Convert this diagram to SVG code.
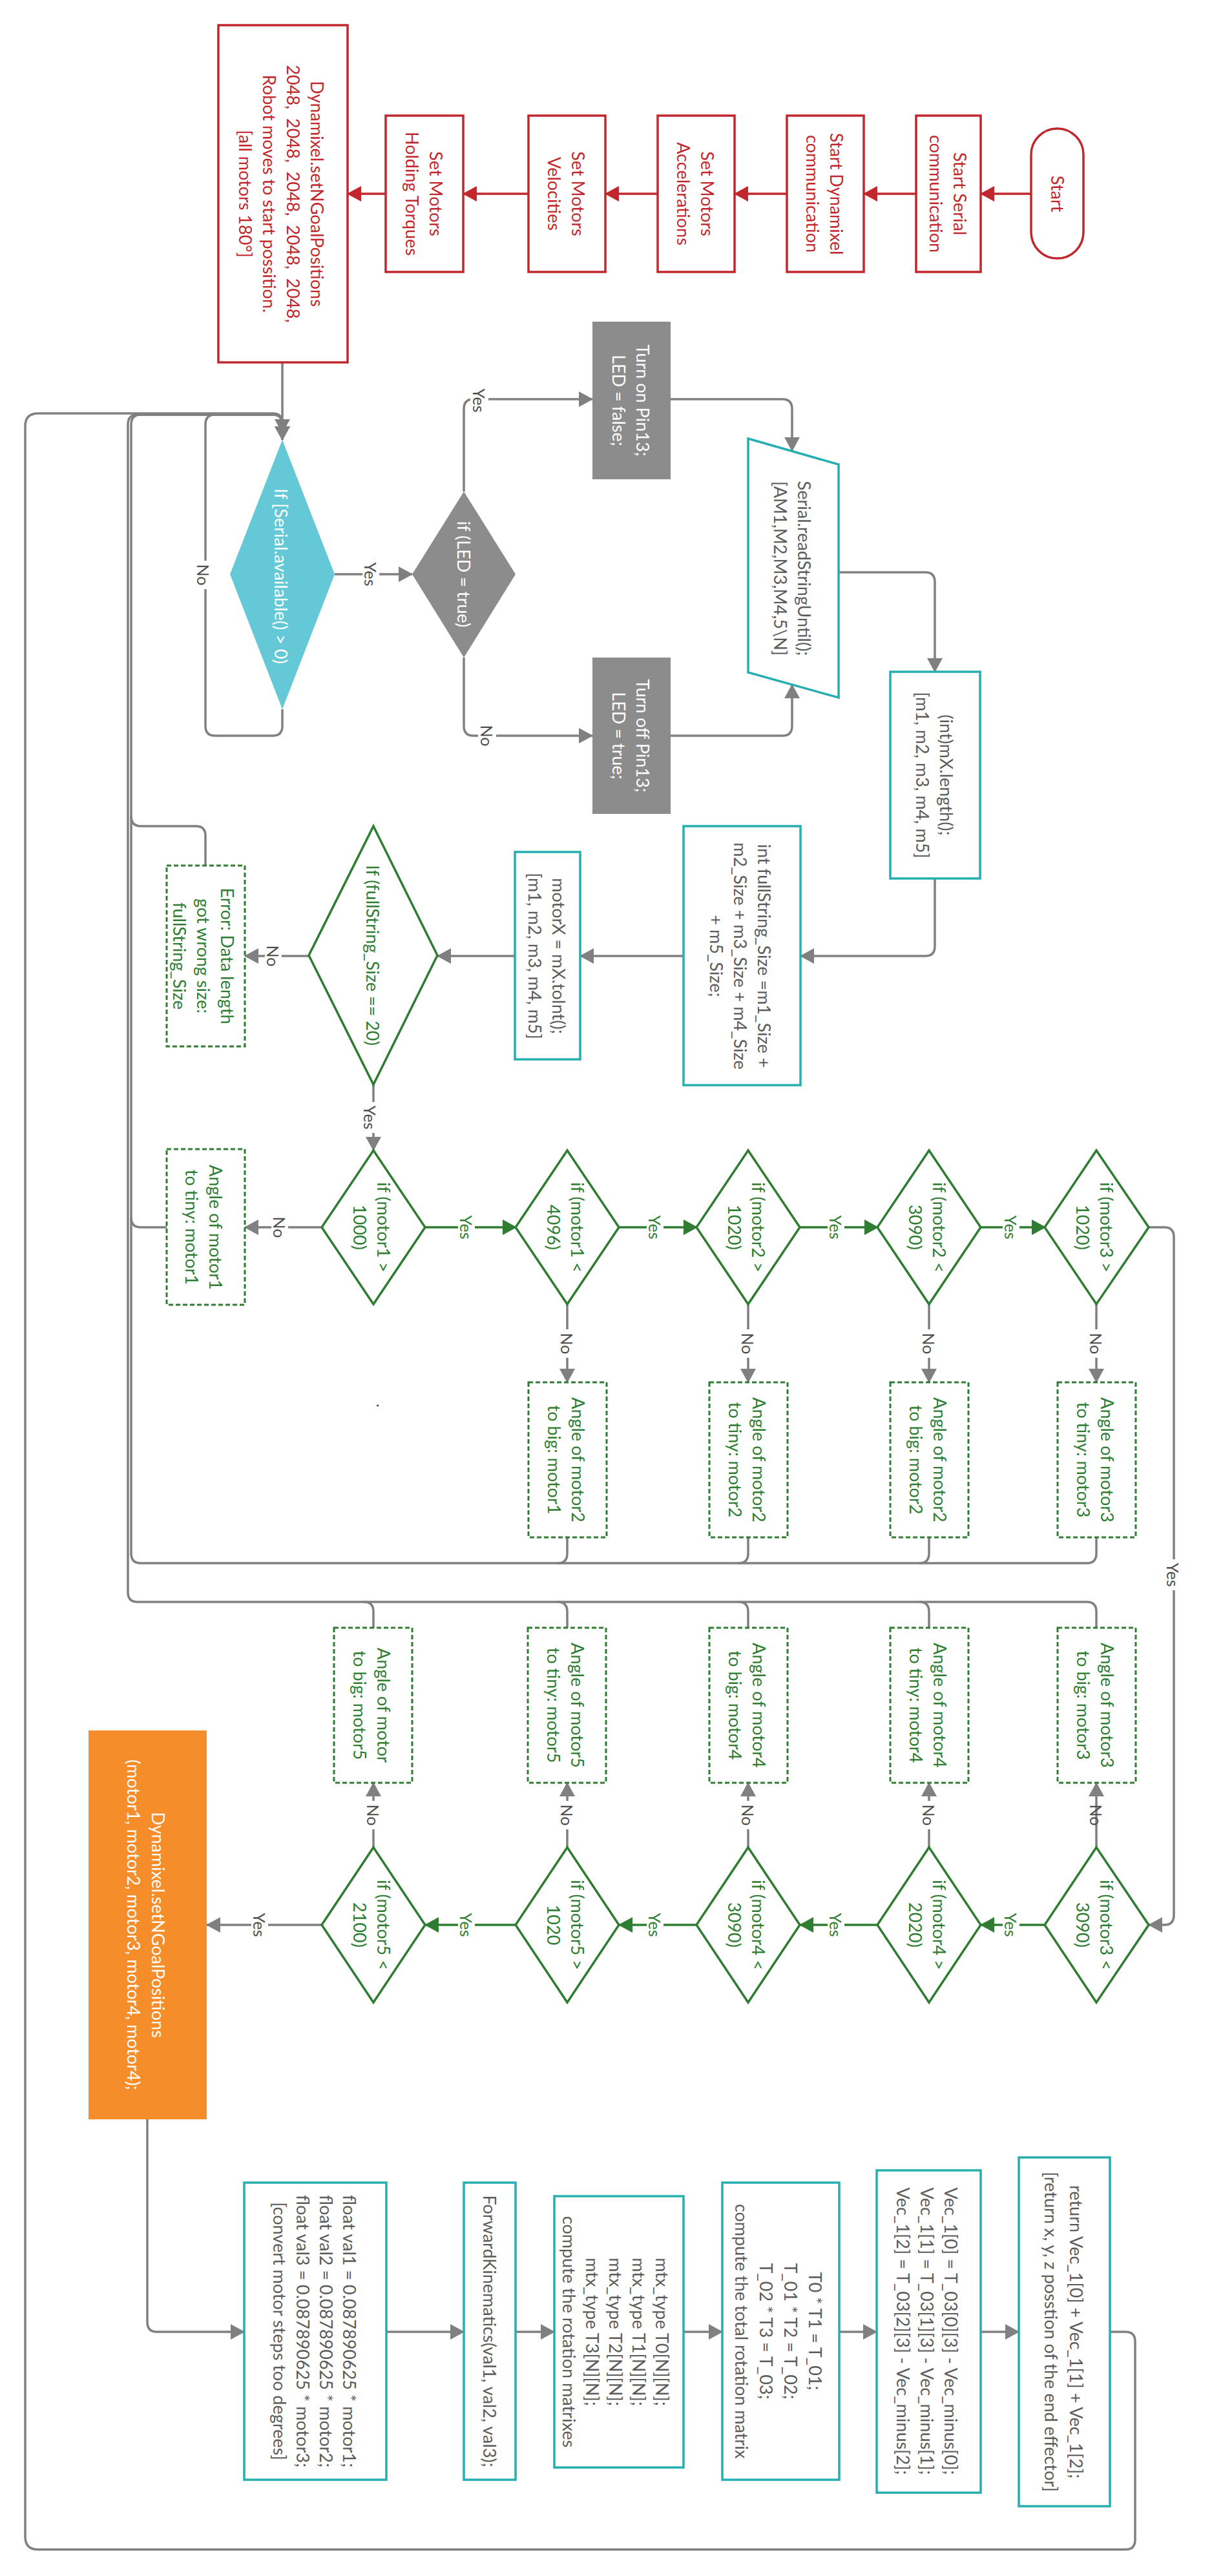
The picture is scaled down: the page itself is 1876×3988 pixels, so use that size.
<svg xmlns="http://www.w3.org/2000/svg" width="1876" height="3988" viewBox="0 0 1876 3988">
<style>
.t{font-family:Lato,"Liberation Sans",sans-serif;font-size:27px;text-anchor:middle;dominant-baseline:central}
.red{fill:#c1272d}.wt{fill:#ffffff}.gr{fill:#2e7d32}.dg{fill:#5c5c5c}
.lbl{font-family:Lato,"Liberation Sans",sans-serif;font-size:25px;text-anchor:middle;dominant-baseline:central;fill:#4d4d4d}
.lblg{fill:#2e7d32}
.c{fill:none;stroke:#808080;stroke-width:3.5}
.cg{fill:none;stroke:#2e7d32;stroke-width:3.5}
.cr{fill:none;stroke:#c1272d;stroke-width:3.5}
.rb{fill:#ffffff;stroke:#c1272d;stroke-width:3.5}
.tb{fill:#ffffff;stroke:#26aeb0;stroke-width:3.5}
.gd{fill:#ffffff;stroke:#2e7d32;stroke-width:3.5}
.gdash{fill:#ffffff;stroke:#2e7d32;stroke-width:3;stroke-dasharray:7 4}
.gray{fill:#8c8c8c}
.bg{fill:#ffffff}
</style>
<defs>
<marker id="ag" markerUnits="userSpaceOnUse" markerWidth="22" markerHeight="24" viewBox="0 0 22 24" refX="21" refY="12" orient="auto"><path d="M0,0 L22,12 L0,24 z" fill="#808080"/></marker>
<marker id="ar" markerUnits="userSpaceOnUse" markerWidth="22" markerHeight="24" viewBox="0 0 22 24" refX="21" refY="12" orient="auto"><path d="M0,0 L22,12 L0,24 z" fill="#c1272d"/></marker>
<marker id="agr" markerUnits="userSpaceOnUse" markerWidth="22" markerHeight="24" viewBox="0 0 22 24" refX="21" refY="12" orient="auto"><path d="M0,0 L22,12 L0,24 z" fill="#2e7d32"/></marker>
</defs>
<rect width="1876" height="3988" fill="#ffffff"/>

<g id="connectors">
<!-- red chain -->
<path class="cr" d="M1596,300 H1518" marker-end="url(#ar)"/>
<path class="cr" d="M1418,300 H1337" marker-end="url(#ar)"/>
<path class="cr" d="M1218,300 H1137" marker-end="url(#ar)"/>
<path class="cr" d="M1018,300 H937" marker-end="url(#ar)"/>
<path class="cr" d="M818,300 H717" marker-end="url(#ar)"/>
<path class="cr" d="M597,300 H538" marker-end="url(#ar)"/>
<!-- into serial available -->
<path class="c" d="M437,561 V681" marker-end="url(#ag)"/>
<path class="c" d="M1718,3610 H1742 Q1757,3610 1757,3625 V3932 Q1757,3947 1742,3947 H59 Q39,3947 39,3927 V660 Q39,640 59,640 H422 Q437,640 437,655 V681" marker-end="url(#ag)"/>
<path class="c" d="M437,1098 V1124 Q437,1139 422,1139 H333 Q318,1139 318,1124 V657 Q318,642 333,642 H422 Q437,642 437,657 V670" marker-end="url(#ag)"/>
<path class="c" d="M1697,2380 V2405 Q1697,2420 1682,2420 H218 Q203,2420 203,2405 V657 Q203,642 218,642 H422 Q437,642 437,657 V681" marker-end="url(#ag)"/>
<path class="c" d="M1438,2380 V2405 Q1438,2420 1423,2420"/>
<path class="c" d="M1158,2380 V2405 Q1158,2420 1143,2420"/>
<path class="c" d="M878,2380 V2405 Q878,2420 863,2420"/>
<path class="c" d="M318,1340 V1294 Q318,1279 303,1279 H218 Q203,1279 203,1264"/>
<path class="c" d="M258,1900 H218 Q203,1900 203,1885"/>
<path class="c" d="M1697,2520 V2495 Q1697,2480 1682,2480 H213 Q198,2480 198,2465 V657 Q198,642 213,642 H422"/>
<path class="c" d="M1438,2520 V2495 Q1438,2480 1423,2480"/>
<path class="c" d="M1158,2520 V2495 Q1158,2480 1143,2480"/>
<path class="c" d="M878,2520 V2495 Q878,2480 863,2480"/>
<path class="c" d="M578,2520 V2495 Q578,2480 563,2480"/>
<!-- LED branch -->
<path class="c" d="M518,889 H638" marker-end="url(#ag)"/>
<path class="c" d="M718,761 V633 Q718,618 733,618 H917" marker-end="url(#ag)"/>
<path class="c" d="M718,1018 V1124 Q718,1139 733,1139 H917" marker-end="url(#ag)"/>
<path class="c" d="M1038,618 H1211 Q1226,618 1226,633 V698" marker-end="url(#ag)"/>
<path class="c" d="M1038,1139 H1211 Q1226,1139 1226,1124 V1060" marker-end="url(#ag)"/>
<path class="c" d="M1298,886 H1432 Q1447,886 1447,901 V1040" marker-end="url(#ag)"/>
<path class="c" d="M1447,1360 V1465 Q1447,1480 1432,1480 H1239" marker-end="url(#ag)"/>
<path class="c" d="M1058,1480 H898" marker-end="url(#ag)"/>
<path class="c" d="M797,1480 H677" marker-end="url(#ag)"/>
<path class="c" d="M478,1480 H379" marker-end="url(#ag)"/>
<path class="c" d="M578,1679 V1781" marker-end="url(#ag)"/>
<path class="c" d="M499,1900 H379" marker-end="url(#ag)"/>
<!-- upper yes chain -->
<path class="cg" d="M658,1900 H799" marker-end="url(#agr)"/>
<path class="cg" d="M958,1900 H1079" marker-end="url(#agr)"/>
<path class="cg" d="M1238,1900 H1359" marker-end="url(#agr)"/>
<path class="cg" d="M1518,1900 H1618" marker-end="url(#agr)"/>
<path class="c" d="M878,2019 V2140" marker-end="url(#ag)"/>
<path class="c" d="M1158,2019 V2140" marker-end="url(#ag)"/>
<path class="c" d="M1438,2019 V2140" marker-end="url(#ag)"/>
<path class="c" d="M1697,2019 V2140" marker-end="url(#ag)"/>
<path class="c" d="M1778,1900 H1802 Q1817,1900 1817,1915 V2965 Q1817,2980 1802,2980 H1778" marker-end="url(#ag)"/>
<!-- lower yes chain -->
<path class="cg" d="M1618,2980 H1518" marker-end="url(#agr)"/>
<path class="cg" d="M1359,2980 H1238" marker-end="url(#agr)"/>
<path class="cg" d="M1079,2980 H958" marker-end="url(#agr)"/>
<path class="cg" d="M799,2980 H658" marker-end="url(#agr)"/>
<path class="c" d="M578,2860 V2760" marker-end="url(#ag)"/>
<path class="c" d="M878,2860 V2760" marker-end="url(#ag)"/>
<path class="c" d="M1158,2860 V2760" marker-end="url(#ag)"/>
<path class="c" d="M1438,2860 V2760" marker-end="url(#ag)"/>
<path class="c" d="M1697,2959 V2760" marker-end="url(#ag)"/>
<path class="c" d="M499,2980 H320" marker-end="url(#ag)"/>
<!-- bottom chain -->
<path class="c" d="M228,3281 V3595 Q228,3610 243,3610 H378" marker-end="url(#ag)"/>
<path class="c" d="M598,3610 H718" marker-end="url(#ag)"/>
<path class="c" d="M798,3610 H858" marker-end="url(#ag)"/>
<path class="c" d="M1058,3610 H1118" marker-end="url(#ag)"/>
<path class="c" d="M1299,3610 H1357" marker-end="url(#ag)"/>
<path class="c" d="M1518,3610 H1577" marker-end="url(#ag)"/>
<!-- labels -->
<g transform="translate(315,890) rotate(90)"><rect class="bg" x="-22" y="-13" width="44" height="26"/><text class="lbl" x="0" y="0">No</text></g>
<g transform="translate(574,889) rotate(90)"><rect class="bg" x="-24" y="-13" width="48" height="26"/><text class="lbl" x="0" y="0">Yes</text></g>
<g transform="translate(742,620) rotate(90)"><rect class="bg" x="-24" y="-14" width="48" height="28"/><text class="lbl" x="0" y="0">Yes</text></g>
<g transform="translate(754,1139) rotate(90)"><rect class="bg" x="-22" y="-14" width="44" height="28"/><text class="lbl" x="0" y="0">No</text></g>
<g transform="translate(423,1480) rotate(90)"><rect class="bg" x="-22" y="-13" width="44" height="26"/><text class="lbl" x="0" y="0">No</text></g>
<g transform="translate(573,1730) rotate(90)"><rect class="bg" x="-24" y="-13" width="48" height="26"/><text class="lbl" x="0" y="0">Yes</text></g>
<g transform="translate(433,1900) rotate(90)"><rect class="bg" x="-22" y="-13" width="44" height="26"/><text class="lbl" x="0" y="0">No</text></g>
<g transform="translate(722,1900) rotate(90)"><rect class="bg" x="-24" y="-13" width="48" height="26"/><text class="lbl lblg" x="0" y="0">Yes</text></g>
<g transform="translate(1014,1900) rotate(90)"><rect class="bg" x="-24" y="-13" width="48" height="26"/><text class="lbl lblg" x="0" y="0">Yes</text></g>
<g transform="translate(1294,1900) rotate(90)"><rect class="bg" x="-24" y="-13" width="48" height="26"/><text class="lbl lblg" x="0" y="0">Yes</text></g>
<g transform="translate(1565,1900) rotate(90)"><rect class="bg" x="-24" y="-13" width="48" height="26"/><text class="lbl lblg" x="0" y="0">Yes</text></g>
<g transform="translate(878,2080) rotate(90)"><rect class="bg" x="-22" y="-13" width="44" height="26"/><text class="lbl" x="0" y="0">No</text></g>
<g transform="translate(1158,2080) rotate(90)"><rect class="bg" x="-22" y="-13" width="44" height="26"/><text class="lbl" x="0" y="0">No</text></g>
<g transform="translate(1438,2080) rotate(90)"><rect class="bg" x="-22" y="-13" width="44" height="26"/><text class="lbl" x="0" y="0">No</text></g>
<g transform="translate(1697,2080) rotate(90)"><rect class="bg" x="-22" y="-13" width="44" height="26"/><text class="lbl" x="0" y="0">No</text></g>
<g transform="translate(1816,2438) rotate(90)"><rect class="bg" x="-24" y="-13" width="48" height="26"/><text class="lbl" x="0" y="0">Yes</text></g>
<g transform="translate(1565,2980) rotate(90)"><rect class="bg" x="-24" y="-13" width="48" height="26"/><text class="lbl lblg" x="0" y="0">Yes</text></g>
<g transform="translate(1294,2980) rotate(90)"><rect class="bg" x="-24" y="-13" width="48" height="26"/><text class="lbl lblg" x="0" y="0">Yes</text></g>
<g transform="translate(1014,2980) rotate(90)"><rect class="bg" x="-24" y="-13" width="48" height="26"/><text class="lbl lblg" x="0" y="0">Yes</text></g>
<g transform="translate(722,2980) rotate(90)"><rect class="bg" x="-24" y="-13" width="48" height="26"/><text class="lbl lblg" x="0" y="0">Yes</text></g>
<g transform="translate(578,2810) rotate(90)"><rect class="bg" x="-22" y="-13" width="44" height="26"/><text class="lbl" x="0" y="0">No</text></g>
<g transform="translate(878,2810) rotate(90)"><rect class="bg" x="-22" y="-13" width="44" height="26"/><text class="lbl" x="0" y="0">No</text></g>
<g transform="translate(1158,2810) rotate(90)"><rect class="bg" x="-22" y="-13" width="44" height="26"/><text class="lbl" x="0" y="0">No</text></g>
<g transform="translate(1438,2810) rotate(90)"><rect class="bg" x="-22" y="-13" width="44" height="26"/><text class="lbl" x="0" y="0">No</text></g>
<g transform="translate(1697,2810) rotate(90)"><text class="lbl" x="0" y="0">No</text></g>
<g transform="translate(402,2980) rotate(90)"><rect class="bg" x="-24" y="-13" width="48" height="26"/><text class="lbl" x="0" y="0">Yes</text></g>
<text class="lbl" x="583" y="2173" transform="rotate(90 583 2173)" style="text-anchor:start;dominant-baseline:auto">.</text>
</g>

<g id="start">
<rect class="rb" x="1596" y="199" width="81" height="201" rx="40.5"/>
<text class="t red" x="1637" y="300" transform="rotate(90 1637 300)">Start</text>
</g>
<g id="serial">
<rect class="rb" x="1418" y="179" width="100" height="242"/>
<text class="t red" transform="rotate(90 1468 300)"><tspan x="1468" y="281.5">Start Serial</tspan><tspan x="1468" y="318.5">communication</tspan></text>
</g>
<g id="dynstart">
<rect class="rb" x="1218" y="179" width="119" height="242"/>
<text class="t red" transform="rotate(90 1277 300)"><tspan x="1277" y="281.5">Start Dynamixel</tspan><tspan x="1277" y="318.5">communication</tspan></text>
</g>
<g id="accel">
<rect class="rb" x="1018" y="179" width="119" height="242"/>
<text class="t red" transform="rotate(90 1077 300)"><tspan x="1077" y="281.5">Set Motors</tspan><tspan x="1077" y="318.5">Accelerations</tspan></text>
</g>
<g id="veloc">
<rect class="rb" x="818" y="179" width="119" height="242"/>
<text class="t red" transform="rotate(90 877 300)"><tspan x="877" y="281.5">Set Motors</tspan><tspan x="877" y="318.5">Velocities</tspan></text>
</g>
<g id="torque">
<rect class="rb" x="597" y="179" width="120" height="242"/>
<text class="t red" transform="rotate(90 657 300)"><tspan x="657" y="281.5">Set Motors</tspan><tspan x="657" y="318.5">Holding Torques</tspan></text>
</g>
<g id="initpos">
<rect class="rb" x="338" y="39" width="200" height="522"/>
<text class="t red" transform="rotate(90 436 300)"><tspan x="436" y="244.5">Dynamixel.setNGoalPositions</tspan><tspan x="436" y="281.5">2048, &#160;2048, &#160;2048, &#160;2048, &#160;2048,</tspan><tspan x="436" y="318.5">Robot moves to start possition.</tspan><tspan x="436" y="355.5">[all motors 180°]</tspan></text>
</g>

<g id="available">
<polygon points="437,681 518,889 437,1098 356,889" fill="#64c8d6"/>
<text class="t wt" x="435" y="892" transform="rotate(90 435 892)">If [Serial.available() &gt; 0)</text>
</g>
<g id="ledcheck">
<polygon class="gray" points="718,761 798,889 718,1018 638,889"/>
<text class="t wt" x="718" y="889" transform="rotate(90 718 889)">if (LED = true)</text>
</g>
<g id="ledon">
<rect class="gray" x="917" y="498" width="121" height="244"/>
<text class="t wt" transform="rotate(90 977 620)"><tspan x="977" y="601.5">Turn on Pin13;</tspan><tspan x="977" y="638.5">LED = false;</tspan></text>
</g>
<g id="ledoff">
<rect class="gray" x="917" y="1018" width="121" height="242"/>
<text class="t wt" transform="rotate(90 977 1139)"><tspan x="977" y="1120.5">Turn off Pin13;</tspan><tspan x="977" y="1157.5">LED = true;</tspan></text>
</g>
<g id="readstring">
<polygon class="tb" points="1158,679 1298,719 1298,1080 1158,1041"/>
<text class="t dg" transform="rotate(90 1227 880)"><tspan x="1227" y="861.5">Serial.readStringUntil();</tspan><tspan x="1227" y="898.5">[AM1,M2,M3,M4,5\N]</tspan></text>
</g>
<g id="lengths">
<rect class="tb" x="1378" y="1040" width="139" height="320"/>
<text class="t dg" transform="rotate(90 1447 1200)"><tspan x="1447" y="1181.5">(int)mX.length();</tspan><tspan x="1447" y="1218.5">[m1, m2, m3, m4, m5]</tspan></text>
</g>
<g id="fullsize">
<rect class="tb" x="1058" y="1279" width="181" height="401"/>
<text class="t dg" transform="rotate(90 1147 1480)"><tspan x="1147" y="1443">int fullString_Size =m1_Size +</tspan><tspan x="1147" y="1480">m2_Size + m3_Size + m4_Size</tspan><tspan x="1147" y="1517">+ m5_Size;</tspan></text>
</g>
<g id="toint">
<rect class="tb" x="797" y="1319" width="101" height="321"/>
<text class="t dg" transform="rotate(90 847 1480)"><tspan x="847" y="1461.5">motorX = mX.toInt();</tspan><tspan x="847" y="1498.5">[m1, m2, m3, m4, m5]</tspan></text>
</g>
<g id="sizecheck">
<polygon class="gd" points="578,1279 677,1479 578,1679 478,1479"/>
<text class="t gr" x="577" y="1479" transform="rotate(90 577 1479)">If (fullString_Size == 20)</text>
</g>
<g id="error">
<rect class="gdash" x="258" y="1340" width="121" height="280"/>
<text class="t gr" transform="rotate(90 316 1480)"><tspan x="316" y="1443">Error: Data length</tspan><tspan x="316" y="1480">got wrong size:</tspan><tspan x="316" y="1517">fullString_Size</tspan></text>
</g>

<g id="m1gt">
<polygon class="gd" points="578,1781 658,1900 578,2019 498,1900"/>
<text class="t gr" transform="rotate(90 576 1900)"><tspan x="576" y="1881.5">if (motor1 &gt;</tspan><tspan x="576" y="1918.5">1000)</tspan></text>
</g>
<g id="m1tiny">
<rect class="gdash" x="258" y="1779" width="121" height="241"/>
<text class="t gr" transform="rotate(90 316 1900)"><tspan x="316" y="1881.5">Angle of motor1</tspan><tspan x="316" y="1918.5">to tiny: motor1</tspan></text>
</g>
<g id="m1lt">
<polygon class="gd" points="878,1781 958,1900 878,2019 798,1900"/>
<text class="t gr" transform="rotate(90 876 1900)"><tspan x="876" y="1881.5">if (motor1 &lt;</tspan><tspan x="876" y="1918.5">4096)</tspan></text>
</g>
<g id="m2gt">
<polygon class="gd" points="1158,1781 1238,1900 1158,2019 1078,1900"/>
<text class="t gr" transform="rotate(90 1156 1900)"><tspan x="1156" y="1881.5">if (motor2 &gt;</tspan><tspan x="1156" y="1918.5">1020)</tspan></text>
</g>
<g id="m2lt">
<polygon class="gd" points="1438,1781 1518,1900 1438,2019 1358,1900"/>
<text class="t gr" transform="rotate(90 1436 1900)"><tspan x="1436" y="1881.5">if (motor2 &lt;</tspan><tspan x="1436" y="1918.5">3090)</tspan></text>
</g>
<g id="m3gt">
<polygon class="gd" points="1697,1781 1778,1900 1697,2019 1617,1900"/>
<text class="t gr" transform="rotate(90 1695 1900)"><tspan x="1695" y="1881.5">if (motor3 &gt;</tspan><tspan x="1695" y="1918.5">1020)</tspan></text>
</g>
<g id="u1">
<rect class="gdash" x="818" y="2140" width="121" height="240"/>
<text class="t gr" transform="rotate(90 877 2260)"><tspan x="877" y="2241.5">Angle of motor2</tspan><tspan x="877" y="2278.5">to big: motor1</tspan></text>
</g>
<g id="u2">
<rect class="gdash" x="1098" y="2140" width="121" height="240"/>
<text class="t gr" transform="rotate(90 1157 2260)"><tspan x="1157" y="2241.5">Angle of motor2</tspan><tspan x="1157" y="2278.5">to tiny: motor2</tspan></text>
</g>
<g id="u3">
<rect class="gdash" x="1378" y="2140" width="121" height="240"/>
<text class="t gr" transform="rotate(90 1437 2260)"><tspan x="1437" y="2241.5">Angle of motor2</tspan><tspan x="1437" y="2278.5">to big: motor2</tspan></text>
</g>
<g id="u4">
<rect class="gdash" x="1637" y="2140" width="121" height="240"/>
<text class="t gr" transform="rotate(90 1696 2260)"><tspan x="1696" y="2241.5">Angle of motor3</tspan><tspan x="1696" y="2278.5">to tiny: motor3</tspan></text>
</g>

<g id="l1">
<rect class="gdash" x="517" y="2520" width="121" height="240"/>
<text class="t gr" transform="rotate(90 576 2640)"><tspan x="576" y="2621.5">Angle of motor</tspan><tspan x="576" y="2658.5">to big: motor5</tspan></text>
</g>
<g id="l2">
<rect class="gdash" x="817" y="2520" width="121" height="240"/>
<text class="t gr" transform="rotate(90 876 2640)"><tspan x="876" y="2621.5">Angle of motor5</tspan><tspan x="876" y="2658.5">to tiny: motor5</tspan></text>
</g>
<g id="l3">
<rect class="gdash" x="1098" y="2520" width="121" height="240"/>
<text class="t gr" transform="rotate(90 1157 2640)"><tspan x="1157" y="2621.5">Angle of motor4</tspan><tspan x="1157" y="2658.5">to big: motor4</tspan></text>
</g>
<g id="l4">
<rect class="gdash" x="1378" y="2520" width="121" height="240"/>
<text class="t gr" transform="rotate(90 1437 2640)"><tspan x="1437" y="2621.5">Angle of motor4</tspan><tspan x="1437" y="2658.5">to tiny: motor4</tspan></text>
</g>
<g id="l5">
<rect class="gdash" x="1637" y="2520" width="121" height="240"/>
<text class="t gr" transform="rotate(90 1696 2640)"><tspan x="1696" y="2621.5">Angle of motor3</tspan><tspan x="1696" y="2658.5">to big: motor3</tspan></text>
</g>

<g id="m3lt">
<polygon class="gd" points="1697,2860 1778,2980 1697,3100 1617,2980"/>
<text class="t gr" transform="rotate(90 1695 2980)"><tspan x="1695" y="2961.5">if (motor3 &lt;</tspan><tspan x="1695" y="2998.5">3090)</tspan></text>
</g>
<g id="m4gt">
<polygon class="gd" points="1438,2860 1518,2980 1438,3100 1358,2980"/>
<text class="t gr" transform="rotate(90 1436 2980)"><tspan x="1436" y="2961.5">if (motor4 &gt;</tspan><tspan x="1436" y="2998.5">2020)</tspan></text>
</g>
<g id="m4lt">
<polygon class="gd" points="1158,2860 1238,2980 1158,3100 1078,2980"/>
<text class="t gr" transform="rotate(90 1156 2980)"><tspan x="1156" y="2961.5">if (motor4 &lt;</tspan><tspan x="1156" y="2998.5">3090)</tspan></text>
</g>
<g id="m5gt">
<polygon class="gd" points="878,2860 958,2980 878,3100 798,2980"/>
<text class="t gr" transform="rotate(90 876 2980)"><tspan x="876" y="2961.5">if (motor5 &gt;</tspan><tspan x="876" y="2998.5">1020</tspan></text>
</g>
<g id="m5lt">
<polygon class="gd" points="578,2860 658,2980 578,3100 498,2980"/>
<text class="t gr" transform="rotate(90 576 2980)"><tspan x="576" y="2961.5">if (motor5 &lt;</tspan><tspan x="576" y="2998.5">2100)</tspan></text>
</g>

<g id="setgoal">
<rect x="137" y="2679" width="183" height="602" fill="#f58d2b"/>
<text class="t wt" transform="rotate(90 227 2980)"><tspan x="227" y="2961">Dynamixel.setNGoalPositions</tspan><tspan x="227" y="2999">(motor1, motor2, motor3, motor4, motor4);</tspan></text>
</g>

<g id="convert">
<rect class="tb" x="378" y="3379" width="220" height="460"/>
<text class="t dg" transform="rotate(90 488 3609)"><tspan x="488" y="3555">float val1 = 0.087890625 * motor1;</tspan><tspan x="488" y="3591">float val2 = 0.087890625 * motor2;</tspan><tspan x="488" y="3627">float val3 = 0.087890625 * motor3;</tspan><tspan x="488" y="3663">[convert motor steps too degrees]</tspan></text>
</g>
<g id="fk">
<rect class="tb" x="718" y="3379" width="80" height="460"/>
<text class="t dg" x="758" y="3609" transform="rotate(90 758 3609)">ForwardKinematics(val1, val2, val3);</text>
</g>
<g id="matrices">
<rect class="tb" x="858" y="3400" width="200" height="420"/>
<text class="t dg" transform="rotate(90 954 3610)"><tspan x="954" y="3538">mtx_type T0[N][N];</tspan><tspan x="954" y="3574">mtx_type T1[N][N];</tspan><tspan x="954" y="3610">mtx_type T2[N][N];</tspan><tspan x="954" y="3646">mtx_type T3[N][N];</tspan><tspan x="954" y="3682">compute the rotation matrixes</tspan></text>
</g>
<g id="total">
<rect class="tb" x="1118" y="3379" width="181" height="460"/>
<text class="t dg" transform="rotate(90 1206 3609)"><tspan x="1206" y="3552">T0 * T1 = T_01;</tspan><tspan x="1206" y="3590">T_01 * T2 = T_02;</tspan><tspan x="1206" y="3628">T_02 * T3 = T_03;</tspan><tspan x="1206" y="3666">compute the total rotation matrix</tspan></text>
</g>
<g id="vec">
<rect class="tb" x="1357" y="3360" width="161" height="499"/>
<text class="t dg" transform="rotate(90 1436 3609)"><tspan x="1436" y="3572">Vec_1[0] = T_03[0][3] - Vec_minus[0];</tspan><tspan x="1436" y="3609">Vec_1[1] = T_03[1][3] - Vec_minus[1];</tspan><tspan x="1436" y="3646">Vec_1[2] = T_03[2][3] - Vec_minus[2];</tspan></text>
</g>
<g id="ret">
<rect class="tb" x="1577" y="3340" width="141" height="540"/>
<text class="t dg" transform="rotate(90 1647 3610)"><tspan x="1647" y="3590.5">return Vec_1[0] + Vec_1[1] + Vec_1[2];</tspan><tspan x="1647" y="3629.5">[return x, y, z posstion of the end effector]</tspan></text>
</g>
</svg>
